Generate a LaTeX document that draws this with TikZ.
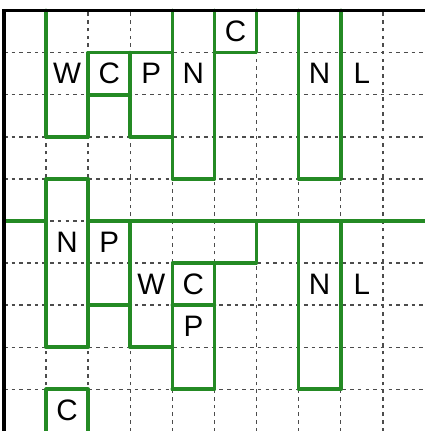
\documentclass[tikz,border=0pt]{standalone}
\usepackage{fontspec}
\setmainfont{Liberation Sans}
\usepackage{tikz}
\definecolor{boxgreen}{RGB}{36,138,36}

\begin{document}
\begin{tikzpicture}[x=1cm,y=1cm,
		gridline/.style={black!70,line width=1pt,dash pattern=on 2.4pt off 2.8pt},
		wall/.style={boxgreen,line width=2.5pt,line cap=round,line join=round},
		letter/.style={font=\fontsize{20}{22}\selectfont,inner sep=0}]
			\useasboundingbox (-0.095,0.01) rectangle (10,10.25);
			\foreach \t in {1,...,9}{ \draw[gridline] (\t,0) -- (\t,10); \draw[gridline] (0,\t) -- (10,\t); }
			\draw[black!35,line width=0.4pt] (10,0) -- (10,10);
			% upper half
			\draw[wall] (1,10) -- (1,7) -- (2,7) -- (2,9) -- (4,9);
			\draw[wall] (2,8) -- (3,8);
			\draw[wall] (3,9) -- (3,7) -- (4,7);
			\draw[wall] (4,10) -- (4,6) -- (5,6) -- (5,10);
			\draw[wall] (5,9) -- (6,9) -- (6,10);
			\draw[wall] (7,10) -- (7,6) -- (8,6) -- (8,10);
			% middle line
			\draw[wall] (0,5) -- (1,5);
			\draw[wall] (2,5) -- (10,5);
			% lower half
			\draw[wall] (1,6) rectangle (2,2);
			\draw[wall] (2,3) -- (3,3);
			\draw[wall] (3,5) -- (3,2) -- (4,2);
			\draw[wall] (4,1) -- (4,4) -- (6,4) -- (6,5);
			\draw[wall] (4,3) -- (5,3);
			\draw[wall] (5,4) -- (5,1) -- (4,1);
			\draw[wall] (7,5) -- (7,1) -- (8,1) -- (8,5);
			\draw[wall] (1,0) -- (1,1) -- (2,1) -- (2,0);
			% frame
			\draw[black,line width=2.3pt] (0,0) -- (0,10) -- (10,10);
			\foreach \x/\y/\l [count=\i] in {1.5/8.5/W,2.5/8.5/C,3.5/8.5/P,4.5/8.5/N,5.5/9.5/C,7.5/8.5/N,8.5/8.5/L,
				1.5/4.5/N,2.5/4.5/P,3.5/3.5/W,4.5/3.5/C,4.5/2.5/P,7.5/3.5/N,8.5/3.5/L,1.5/0.5/C}{
				\node[letter] (lbl\i) at (\x,\y) {\l};
			}
		\end{tikzpicture}
\end{document}
